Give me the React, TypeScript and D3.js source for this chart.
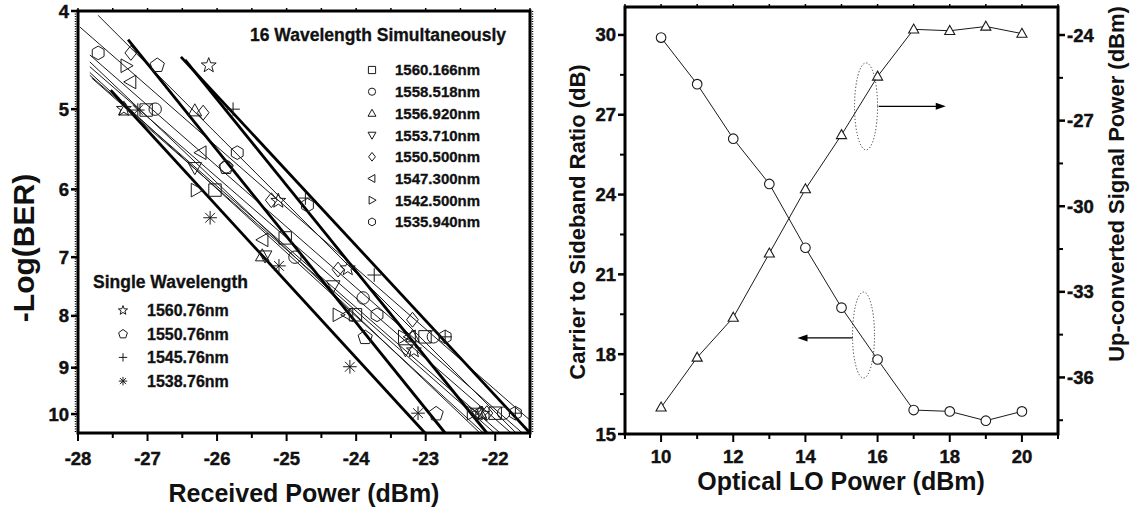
import React from 'react';
import * as d3 from 'd3';

const FONT = '"Liberation Sans", Arial, Helvetica, sans-serif';

// ---------- Left panel data ----------
const leftXTicks = [-28, -27, -26, -25, -24, -23, -22];
const leftYTicks = [4, 5, 6, 7, 8, 9, 10];

// 16 wavelengths simultaneously
const pts1560166 = [[-27.02, 5.01], [-26.03, 6.01], [-25.02, 6.7], [-24.01, 7.98], [-23.01, 8.39], [-22.0, 9.98]];
const pts1558518 = [[-26.89, 5.0], [-25.87, 5.7], [-24.88, 7.0], [-23.9, 7.68], [-22.89, 8.39], [-21.88, 9.98]];
const pts1556920 = [[-27.32, 5.01], [-26.32, 5.02], [-25.35, 6.98], [-23.19, 8.39], [-22.22, 9.98]];
const pts1553710 = [[-26.32, 5.71], [-25.31, 6.98], [-24.33, 7.47], [-23.29, 8.64], [-22.26, 9.98]];
const pts1550500 = [[-27.24, 4.4], [-26.2, 5.04], [-25.22, 6.15], [-24.26, 7.2], [-23.19, 8.07], [-22.12, 9.98]];
const pts1547300 = [[-27.24, 4.7], [-26.23, 5.52], [-25.34, 6.73], [-24.12, 7.98], [-23.22, 8.39], [-22.26, 9.98]];
const pts1542500 = [[-27.31, 4.53], [-26.3, 6.01], [-24.26, 7.98], [-23.32, 8.39], [-22.33, 9.98]];
const pts1535940 = [[-27.71, 4.4], [-25.71, 5.52], [-24.7, 6.22], [-23.7, 7.98], [-22.72, 8.39], [-21.71, 9.98]];

// single wavelength
const pts1560760 = [[-26.12, 4.52], [-27.34, 4.99], [-25.12, 6.15], [-24.12, 7.17], [-23.17, 8.64], [-22.19, 9.98]];
const pts1550760 = [[-26.86, 4.52], [-25.87, 5.7], [-23.87, 8.39], [-22.85, 9.98]];
const pts1545760 = [[-25.77, 5.0], [-24.73, 6.12], [-23.74, 7.29], [-22.72, 8.39], [-21.71, 9.98]];
const pts1538760 = [[-27.14, 5.01], [-26.1, 6.4], [-25.11, 7.14], [-24.09, 8.98], [-23.11, 9.98]];

// fitted lines (endpoints, data coords)
const fit1560166 = [[-27.83, 4.54], [-21.77, 10.44]];
const fit1558518 = [[-27.83, 4.42], [-21.61, 10.44]];
const fit1556920 = [[-27.83, 4.63], [-21.93, 10.44]];
const fit1553710 = [[-27.8, 4.66], [-22.01, 10.44]];
const fit1550500 = [[-27.71, 4.04], [-21.7, 10.44]];
const fit1547300 = [[-27.83, 4.6], [-22.17, 10.44]];
const fit1542500 = [[-27.83, 4.49], [-22.22, 10.44]];
const fit1535940 = [[-27.97, 4.15], [-21.5, 10.14]];
const fit1560760 = [[-26.46, 4.47], [-22.12, 10.44]];
const fit1550760 = [[-27.28, 4.27], [-22.72, 10.44]];
const fit1545760 = [[-26.52, 4.44], [-21.5, 10.44]];
const fit1538760 = [[-27.53, 4.79], [-23.01, 10.44]];

const simLabels = ['1560.166nm', '1558.518nm', '1556.920nm', '1553.710nm', '1550.500nm', '1547.300nm', '1542.500nm', '1535.940nm'];
const simShapes = ['square', 'circle', 'triUp', 'triDown', 'diamond', 'triLeft', 'triRight', 'hexagon'];
const simPoints = [pts1560166, pts1558518, pts1556920, pts1553710, pts1550500, pts1547300, pts1542500, pts1535940];
const simFits = [fit1560166, fit1558518, fit1556920, fit1553710, fit1550500, fit1547300, fit1542500, fit1535940];

const singleLabels = ['1560.76nm', '1550.76nm', '1545.76nm', '1538.76nm'];
const singleShapes = ['star', 'pentagon', 'plus', 'asterisk'];
const singlePoints = [pts1560760, pts1550760, pts1545760, pts1538760];
const singleFits = [fit1560760, fit1550760, fit1545760, fit1538760];

// ---------- Right panel data ----------
const loPower = [10, 11, 12, 13, 14, 15, 16, 17, 18, 19, 20];
const csr = [29.9, 28.15, 26.1, 24.4, 22.0, 19.75, 17.8, 15.9, 15.85, 15.5, 15.85];
const upPower = [-37.05, -35.3, -33.9, -31.65, -29.4, -27.5, -25.45, -23.8, -23.85, -23.7, -23.95];
const rightXTicks = [10, 12, 14, 16, 18, 20];
const csrTicks = [15, 18, 21, 24, 27, 30];
const upTicks = [-24, -27, -30, -33, -36];

function markerPath(t: string, r: number): string {
  const poly = (pts: number[][]) => 'M' + pts.map((p) => p[0].toFixed(2) + ',' + p[1].toFixed(2)).join('L') + 'Z';
  switch (t) {
    case 'square':
      return poly([[-r, -r], [r, -r], [r, r], [-r, r]]);
    case 'circle':
      return `M${-r},0a${r},${r} 0 1,0 ${2 * r},0a${r},${r} 0 1,0 ${-2 * r},0Z`;
    case 'triUp':
      return poly([[0, -r * 1.15], [r * 1.1, r * 0.8], [-r * 1.1, r * 0.8]]);
    case 'triDown':
      return poly([[0, r * 1.15], [r * 1.1, -r * 0.8], [-r * 1.1, -r * 0.8]]);
    case 'triLeft':
      return poly([[-r * 1.15, 0], [r * 0.8, -r * 1.1], [r * 0.8, r * 1.1]]);
    case 'triRight':
      return poly([[r * 1.15, 0], [-r * 0.8, -r * 1.1], [-r * 0.8, r * 1.1]]);
    case 'diamond':
      return poly([[0, -r * 1.2], [r * 0.95, 0], [0, r * 1.2], [-r * 0.95, 0]]);
    case 'hexagon': {
      const p: number[][] = [];
      for (let k = 0; k < 6; k++) {
        const a = (-90 + 60 * k) * Math.PI / 180;
        p.push([r * 1.1 * Math.cos(a), r * 1.1 * Math.sin(a)]);
      }
      return poly(p);
    }
    case 'pentagon': {
      const p: number[][] = [];
      for (let k = 0; k < 5; k++) {
        const a = (-90 + 72 * k) * Math.PI / 180;
        p.push([r * 1.1 * Math.cos(a), r * 1.1 * Math.sin(a) + r * 0.1]);
      }
      return poly(p);
    }
    case 'star': {
      const p: number[][] = [];
      for (let k = 0; k < 10; k++) {
        const a = (-90 + 36 * k) * Math.PI / 180;
        const rr = k % 2 === 0 ? r * 1.15 : r * 0.48;
        p.push([rr * Math.cos(a), rr * Math.sin(a) + r * 0.1]);
      }
      return poly(p);
    }
    case 'plus':
      return `M${-r},0H${r}M0,${-r}V${r}`;
    case 'asterisk': {
      const d = r * 0.72;
      return `M${-r},0H${r}M0,${-r}V${r}M${-d},${-d}L${d},${d}M${-d},${d}L${d},${-d}`;
    }
  }
  return '';
}

export default function App() {
  const xL = d3.scaleLinear().domain([-28, -21.5]).range([78, 530]);
  const yL = d3.scaleLog().domain([4, 10.44]).range([11, 433]);
  const xR = d3.scaleLinear().domain([9, 21]).range([625, 1058]);
  const yR1 = d3.scaleLinear().domain([15, 31.05]).range([434, 7]);
  const yR2 = d3.scaleLinear().domain([-38, -23]).range([434.5, 6.5]);

  const csrPath = d3.line<number>().x((_, i) => xR(loPower[i])).y((d) => yR1(d))(csr) || '';
  const upPath = d3.line<number>().x((_, i) => xR(loPower[i])).y((d) => yR2(d))(upPower) || '';

  const leftMinorX = d3.range(-28, -21.49, 0.5);
  const rightMinorX = d3.range(9, 21.01, 1);
  const csrMinor = d3.range(16.5, 31, 3);
  const upMinor = d3.range(-37.5, -23, 3);

  const tickStyle = { fontFamily: FONT, fontWeight: 700, fontSize: 18.5, fill: '#111', stroke: '#111', strokeWidth: 0.45 } as const;
  const legStyle = (fs: number) => ({ fontFamily: FONT, fontWeight: 700, fontSize: fs, fill: '#111', stroke: '#111', strokeWidth: 0.3 });
  const mk = (shape: string, cx: number, cy: number, r: number, key: string | number, fill = 'none', sw = 1) => (
    <path key={key} d={markerPath(shape, r)} transform={`translate(${cx},${cy})`} fill={fill} stroke="#1a1a1a" strokeWidth={sw} />
  );

  // annotation geometry (data coords)
  const ellUp = { x: 15.68, y: -26.5 };
  const arrowUp = { x1: 16.03, x2: 17.89, y: -26.5 };
  const ellDown = { x: 15.61, y: 18.72 };
  const arrowDown = { x1: 15.31, x2: 13.78, y: 18.61 };

  return (
    <svg width={1141} height={510} style={{ position: 'absolute', left: 0, top: 0, background: '#fff' }}>
      <rect x={0} y={0} width={1141} height={510} fill="#fff" />
      {/* ================= LEFT PANEL ================= */}
      <g>
        {simFits.map((f, i) => (
          <line key={'sf' + i} x1={xL(f[0][0])} y1={yL(f[0][1])} x2={xL(f[1][0])} y2={yL(f[1][1])} stroke="#1a1a1a" strokeWidth={1} />
        ))}
        {singleFits.map((f, i) => (
          <line key={'gf' + i} x1={xL(f[0][0])} y1={yL(f[0][1])} x2={xL(f[1][0])} y2={yL(f[1][1])} stroke="#000" strokeWidth={2.8} />
        ))}
        {simPoints.map((pts, i) => pts.map((p, j) => mk(simShapes[i], xL(p[0]), yL(p[1]), 6.2, `sp${i}-${j}`)))}
        {singlePoints.map((pts, i) => pts.map((p, j) => mk(singleShapes[i], xL(p[0]), yL(p[1]), 6.8, `gp${i}-${j}`)))}

        <rect x={78} y={11} width={452} height={422} fill="none" stroke="#000" strokeWidth={3} />
        <line x1={75.5} y1={11} x2={75.5} y2={433} stroke="#000" strokeWidth={1.5} strokeDasharray="1 1.5" />
        <line x1={532.5} y1={11} x2={532.5} y2={433} stroke="#000" strokeWidth={1.5} strokeDasharray="1 1.5" />
        {leftMinorX.map((v) => {
          const major = Math.abs(v - Math.round(v)) < 1e-6;
          return (
            <g key={'lxt' + v}>
              <line x1={xL(v)} x2={xL(v)} y1={433} y2={433 + (major ? 8 : 5)} stroke="#000" strokeWidth={2} />
              <line x1={xL(v)} x2={xL(v)} y1={11} y2={8} stroke="#000" strokeWidth={1.5} />
            </g>
          );
        })}
        {leftXTicks.map((v) => (
          <text key={'lxl' + v} x={xL(v)} y={465} textAnchor="middle" style={tickStyle}>{v}</text>
        ))}
        {leftYTicks.map((v) => (
          <g key={'lyt' + v}>
            <line x1={78} x2={71} y1={yL(v)} y2={yL(v)} stroke="#000" strokeWidth={2.5} />
            <text x={69} y={yL(v) + 6.5} textAnchor="end" style={tickStyle}>{v}</text>
          </g>
        ))}
        <text x={304} y={502} textAnchor="middle" style={{ fontFamily: FONT, fontWeight: 700, fontSize: 25, fill: '#111' }}>Received Power (dBm)</text>
        <text transform={`translate(34,248) rotate(-90)`} textAnchor="middle" style={{ fontFamily: FONT, fontWeight: 700, fontSize: 30, fill: '#111' }}>-Log(BER)</text>

        <text x={250} y={41} style={legStyle(17.5)}>16 Wavelength Simultaneously</text>
        {simLabels.map((l, i) => {
          const cy = 70 + i * 21.7;
          return (
            <g key={'sl' + i}>
              {mk(simShapes[i], 372, cy, 3.6, 'slm' + i)}
              <text x={395} y={cy + 5.4} style={legStyle(15)}>{l}</text>
            </g>
          );
        })}
        <text x={93} y={288} style={legStyle(17.5)}>Single Wavelength</text>
        {singleLabels.map((l, i) => {
          const cy = 310 + i * 23.7;
          return (
            <g key={'gl' + i}>
              {mk(singleShapes[i], 123, cy, 4.2, 'glm' + i)}
              <text x={147} y={cy + 5.8} style={legStyle(16)}>{l}</text>
            </g>
          );
        })}
      </g>

      {/* ================= RIGHT PANEL ================= */}
      <g>
        <path d={csrPath} fill="none" stroke="#1a1a1a" strokeWidth={1} />
        <path d={upPath} fill="none" stroke="#1a1a1a" strokeWidth={1} />
        {csr.map((v, i) => mk('circle', xR(loPower[i]), yR1(v), 4.8, 'c' + i, '#fff', 1.1))}
        {upPower.map((v, i) => mk('triUp', xR(loPower[i]), yR2(v), 4.6, 't' + i, '#fff', 1.1))}

        <ellipse cx={xR(ellUp.x)} cy={yR2(ellUp.y)} rx={11.5} ry={43.5} fill="none" stroke="#333" strokeWidth={1} strokeDasharray="1.2 2" />
        <line x1={xR(arrowUp.x1)} x2={xR(arrowUp.x2) - 8} y1={yR2(arrowUp.y)} y2={yR2(arrowUp.y)} stroke="#000" strokeWidth={1.2} />
        <path d={`M${xR(arrowUp.x2)},${yR2(arrowUp.y)}l-10,-3.5v7Z`} fill="#000" />
        <ellipse cx={xR(ellDown.x)} cy={yR1(ellDown.y)} rx={11} ry={43} fill="none" stroke="#333" strokeWidth={1} strokeDasharray="1.2 2" />
        <line x1={xR(arrowDown.x1)} x2={xR(arrowDown.x2) + 8} y1={yR1(arrowDown.y)} y2={yR1(arrowDown.y)} stroke="#000" strokeWidth={1.2} />
        <path d={`M${xR(arrowDown.x2)},${yR1(arrowDown.y)}l10,-3.5v7Z`} fill="#000" />

        <rect x={625} y={7} width={433} height={427} fill="none" stroke="#000" strokeWidth={3} />
        {rightMinorX.map((v) => {
          const major = v % 2 === 0;
          return (
            <g key={'rxt' + v}>
              <line x1={xR(v)} x2={xR(v)} y1={434} y2={434 + (major ? 8 : 5)} stroke="#000" strokeWidth={2} />
              <line x1={xR(v)} x2={xR(v)} y1={7} y2={4} stroke="#000" strokeWidth={1.5} />
            </g>
          );
        })}
        {rightXTicks.map((v) => (
          <text key={'rxl' + v} x={xR(v)} y={463} textAnchor="middle" style={tickStyle}>{v}</text>
        ))}
        {csrTicks.map((v) => (
          <g key={'cyt' + v}>
            <line x1={625} x2={618} y1={yR1(v)} y2={yR1(v)} stroke="#000" strokeWidth={2.5} />
            <text x={616} y={yR1(v) + 6.5} textAnchor="end" style={tickStyle}>{v}</text>
          </g>
        ))}
        {csrMinor.map((v) => (
          <line key={'cym' + v} x1={625} x2={620} y1={yR1(v)} y2={yR1(v)} stroke="#000" strokeWidth={2} />
        ))}
        {upTicks.map((v) => (
          <g key={'uyt' + v}>
            <line x1={1058} x2={1065} y1={yR2(v)} y2={yR2(v)} stroke="#000" strokeWidth={2.5} />
            <text x={1067} y={yR2(v) + 6.5} textAnchor="start" style={tickStyle}>{v}</text>
          </g>
        ))}
        {upMinor.map((v) => (
          <line key={'uym' + v} x1={1058} x2={1063} y1={yR2(v)} y2={yR2(v)} stroke="#000" strokeWidth={2} />
        ))}
        <text x={841} y={490} textAnchor="middle" style={{ fontFamily: FONT, fontWeight: 700, fontSize: 25, fill: '#111' }}>Optical LO Power (dBm)</text>
        <text transform={`translate(585,222) rotate(-90)`} textAnchor="middle" style={{ fontFamily: FONT, fontWeight: 700, fontSize: 22, fill: '#111' }}>Carrier to Sideband Ratio (dB)</text>
        <text transform={`translate(1124,184) rotate(-90)`} textAnchor="middle" style={{ fontFamily: FONT, fontWeight: 700, fontSize: 22, fill: '#111' }}>Up-converted Signal Power (dBm)</text>
      </g>
    </svg>
  );
}
